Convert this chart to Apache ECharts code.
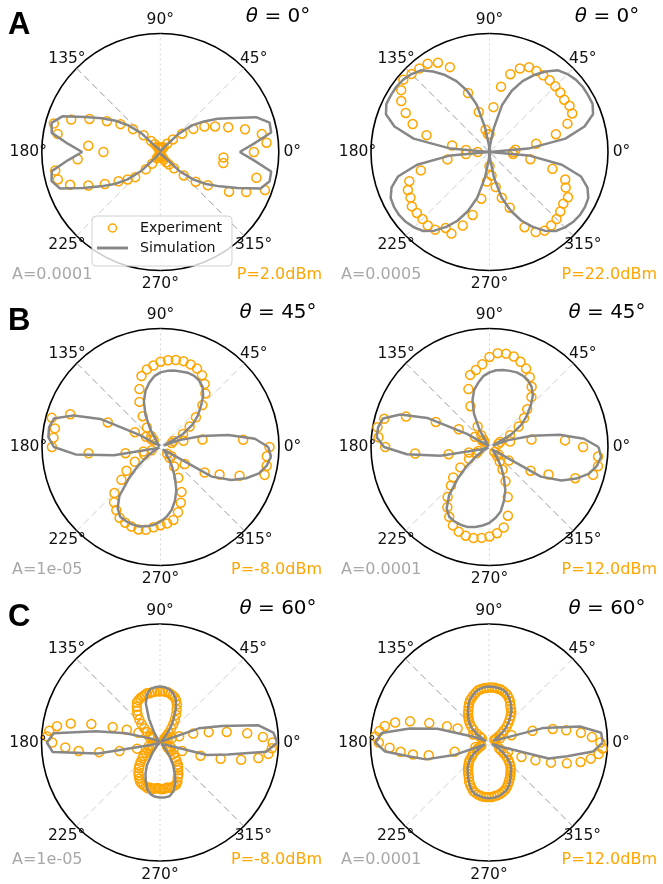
<!DOCTYPE html>
<html>
<head>
<meta charset="utf-8">
<script src="https://cdn.jsdelivr.net/npm/echarts@6/dist/echarts.min.js"></script>
<style>
html,body{margin:0;padding:0;background:#fff;}
#chart{width:663px;height:884px;}
</style>
</head>
<body>
<div id="chart"></div>
<script>
// ---------- tick labels / texts ----------
const tickAngles = [0, 45, 90, 135, 180, 225, 270, 315];
const tickLabels = ['0°', '45°', '90°', '135°', '180°', '225°', '270°', '315°'];
const guideAngles = [135, 45, 90];
const panelLetters = ['A', 'B', 'C'];
const thetaValues = [0, 0, 45, 45, 60, 60];
const ampLabels = ['A=0.0001', 'A=0.0005', 'A=1e-05', 'A=0.0001', 'A=1e-05', 'A=0.0001'];
const powerLabels = ['P=2.0dBm', 'P=22.0dBm', 'P=-8.0dBm', 'P=12.0dBm', 'P=-8.0dBm', 'P=12.0dBm'];
const legendNames = ['Experiment', 'Simulation'];

// ---------- simulation curves (radius, angles 0..360 step 5) ----------
const simStep = 5;
const simA1 = [0.67,0.79,0.95,0.955,0.86,0.68,0.56,0.45,0.35,0.22,0.06,0.01,
  0,0,0,0,0,0,0,0,0,0,0,0,
  0,0.01,0.06,0.22,0.35,0.46,0.57,0.70,0.88,0.95,0.93,0.78,
  0.66,0.78,0.93,0.95,0.90,0.72,0.58,0.47,0.36,0.22,0.06,0.01,
  0,0,0,0,0,0,0,0,0,0,0,0,
  0,0.01,0.06,0.22,0.36,0.47,0.58,0.72,0.90,0.955,0.95,0.79,
  0.67];
const simA2 = [0,0.33,0.65,0.83,0.93,0.96,0.96,0.96,0.95,0.93,0.90,0.83,
  0.75,0.66,0.55,0.41,0.20,0.06,0,0.06,0.20,0.41,0.55,0.66,
  0.75,0.83,0.90,0.93,0.95,0.96,0.96,0.96,0.93,0.83,0.65,0.33,
  0,0.33,0.62,0.80,0.88,0.92,0.93,0.93,0.92,0.90,0.87,0.81,
  0.73,0.64,0.53,0.40,0.22,0.06,0,0.06,0.22,0.40,0.53,0.64,
  0.73,0.81,0.87,0.90,0.92,0.93,0.93,0.92,0.88,0.80,0.62,0.33,
  0];
const simB1 = [0.91,0.80,0.58,0.36,0.17,0.03,0.22,0.33,0.41,0.48,0.56,0.62,
  0.65,0.665,0.667,0.66,0.655,0.645,0.63,0.60,0.55,0.49,0.41,0.30,
  0.17,0.05,0.01,0,0.01,0.04,0.20,0.56,0.78,0.93,0.955,0.95,
  0.90,0.72,0.40,0.06,0.01,0.02,0.06,0.14,0.25,0.38,0.54,0.63,
  0.68,0.69,0.695,0.695,0.68,0.66,0.63,0.59,0.54,0.47,0.39,0.29,
  0.20,0.13,0.07,0.03,0.01,0.06,0.50,0.66,0.77,0.86,0.91,0.935,
  0.91];
const simB2 = [0.92,0.80,0.60,0.37,0.17,0.03,0.21,0.33,0.41,0.49,0.57,0.62,
  0.65,0.665,0.67,0.665,0.66,0.65,0.63,0.60,0.55,0.50,0.42,0.31,
  0.17,0.05,0.01,0,0.01,0.04,0.22,0.58,0.80,0.93,0.955,0.955,
  0.89,0.70,0.42,0.08,0.01,0.02,0.06,0.14,0.25,0.38,0.53,0.63,
  0.68,0.695,0.70,0.70,0.685,0.665,0.64,0.60,0.55,0.47,0.39,0.29,
  0.20,0.12,0.07,0.03,0.01,0.06,0.50,0.67,0.78,0.87,0.92,0.945,
  0.92];
const simC1 = [0.99,0.96,0.84,0.54,0.35,0.05,0.01,0,0.01,0.03,0.08,0.16,
  0.23,0.32,0.39,0.43,0.455,0.468,0.472,0.468,0.46,0.42,0.35,0.22,
  0.10,0.03,0.01,0,0.01,0.02,0.04,0.07,0.12,0.30,0.55,0.90,
  0.955,0.91,0.53,0.08,0.02,0.01,0,0.01,0.02,0.03,0.06,0.12,
  0.22,0.29,0.35,0.41,0.445,0.46,0.465,0.465,0.46,0.43,0.375,0.30,
  0.22,0.14,0.07,0.02,0,0.01,0.02,0.03,0.06,0.41,0.58,0.90,
  0.99];
const simC2 = [0.96,0.95,0.78,0.47,0.04,0.04,0.07,0.12,0.18,0.23,0.28,0.33,
  0.37,0.41,0.44,0.46,0.467,0.47,0.472,0.468,0.46,0.44,0.415,0.39,
  0.35,0.31,0.27,0.235,0.19,0.13,0.06,0.03,0.15,0.45,0.68,0.91,
  0.958,0.88,0.68,0.55,0.30,0.04,0.08,0.15,0.20,0.24,0.28,0.31,
  0.35,0.39,0.43,0.45,0.46,0.468,0.47,0.467,0.46,0.445,0.43,0.40,
  0.36,0.32,0.29,0.255,0.20,0.14,0.07,0.03,0.10,0.52,0.67,0.88,
  0.96];

// ---------- experiment points (radius; A,B: step 5 deg, C: step 3 deg) ----------
const expSteps = [5, 5, 5, 5, 3, 3];
const expA1 = [0.79,0.90,0.87,0.74,0.61,0.51,0.43,0.34,0.24,0.15,0.09,0.05,
  0.03,0.02,0.04,0.02,0.03,0.02,0.03,0.02,0.04,0.02,0.03,0.04,
  0.05,0.08,0.12,0.20,0.30,0.41,0.52,0.66,0.80,0.93,0.88,0.61,
  0.48,0.70,0.90,0.895,0.81,0.67,0.54,0.43,0.36,0.30,0.19,0.12,
  0.06,0.04,0.03,0.02,0.03,0.02,0.03,0.02,0.03,0.04,0.05,0.07,
  0.10,0.13,0.18,0.28,0.39,0.49,0.67,0.80,0.94,0.84,0.54,0.535];
const expA2 = [0.20,0.22,0.40,0.58,0.70,0.77,0.78,0.77,0.78,0.785,0.79,0.79,
  0.79,0.79,0.75,0.68,0.56,0.38,0.15,0.15,0.19,0.35,0.53,0.79,
  0.87,0.91,0.92,0.93,0.95,0.91,0.86,0.78,0.69,0.55,0.32,0.20,
  0.10,0.20,0.36,0.60,0.72,0.76,0.77,0.80,0.80,0.80,0.81,0.80,
  0.74,0.76,0.66,0.55,0.40,0.25,0.12,0.20,0.30,0.40,0.50,0.70,
  0.78,0.81,0.81,0.80,0.78,0.76,0.765,0.71,0.68,0.55,0.35,0.20];
const expB1 = [0.92,0.70,0.36,0.20,0.10,0.12,0.22,0.30,0.39,0.50,0.59,0.65,
  0.70,0.73,0.742,0.75,0.745,0.735,0.72,0.69,0.665,0.62,0.52,0.42,
  0.30,0.20,0.12,0.08,0.10,0.15,0.25,0.49,0.81,0.95,0.905,0.906,
  0.916,0.61,0.30,0.15,0.08,0.15,0.25,0.35,0.43,0.55,0.61,0.65,
  0.69,0.705,0.715,0.72,0.71,0.68,0.66,0.647,0.625,0.57,0.50,0.42,
  0.30,0.20,0.12,0.08,0.12,0.25,0.43,0.55,0.71,0.91,0.91,0.90];
const expB2 = [0.79,0.64,0.36,0.18,0.08,0.10,0.20,0.30,0.38,0.45,0.55,0.62,
  0.68,0.73,0.765,0.79,0.80,0.795,0.76,0.70,0.66,0.63,0.52,0.38,
  0.20,0.12,0.08,0.06,0.08,0.15,0.30,0.50,0.75,0.92,0.96,0.94,
  0.88,0.63,0.35,0.18,0.10,0.12,0.20,0.30,0.40,0.46,0.55,0.62,
  0.68,0.73,0.76,0.775,0.78,0.77,0.755,0.73,0.69,0.60,0.45,0.32,
  0.22,0.15,0.10,0.06,0.10,0.20,0.40,0.55,0.77,0.905,0.93,0.92];
const expC1 = [0.95,0.87,0.74,0.57,0.42,0.29,0.17,0.11,0.07,0.05,
  0.04,0.04,0.04,0.05,0.06,0.08,0.11,0.15,0.19,0.23,
  0.27,0.31,0.35,0.38,0.40,0.41,0.42,0.43,0.43,0.435,
  0.43,0.435,0.43,0.43,0.425,0.43,0.42,0.415,0.41,0.40,
  0.39,0.36,0.33,0.30,0.26,0.22,0.18,0.14,0.10,0.08,
  0.07,0.10,0.20,0.30,0.42,0.60,0.77,0.88,0.94,0.955,
  0.91,0.80,0.69,0.52,0.35,0.20,0.10,0.07,0.07,0.08,
  0.10,0.12,0.15,0.18,0.20,0.23,0.26,0.28,0.31,0.33,
  0.35,0.37,0.38,0.385,0.39,0.40,0.39,0.395,0.39,0.385,
  0.39,0.395,0.39,0.385,0.39,0.39,0.385,0.38,0.36,0.33,
  0.31,0.28,0.26,0.24,0.21,0.18,0.15,0.12,0.10,0.08,
  0.07,0.07,0.10,0.20,0.36,0.53,0.70,0.84,0.92,0.945];
const expC2 = [0.94,0.87,0.78,0.66,0.55,0.38,0.20,0.10,0.06,0.05,
  0.07,0.10,0.13,0.16,0.20,0.23,0.26,0.29,0.32,0.34,
  0.36,0.39,0.41,0.43,0.44,0.45,0.46,0.46,0.465,0.465,
  0.465,0.46,0.46,0.455,0.45,0.435,0.42,0.405,0.39,0.37,
  0.345,0.32,0.30,0.275,0.255,0.23,0.20,0.17,0.13,0.09,
  0.07,0.15,0.29,0.38,0.53,0.69,0.81,0.89,0.93,0.96,
  0.93,0.84,0.75,0.65,0.52,0.30,0.12,0.07,0.08,0.10,
  0.12,0.15,0.17,0.19,0.22,0.24,0.26,0.28,0.30,0.32,
  0.34,0.37,0.39,0.41,0.43,0.44,0.45,0.455,0.46,0.46,
  0.46,0.46,0.455,0.45,0.445,0.435,0.425,0.41,0.39,0.37,
  0.35,0.33,0.31,0.29,0.27,0.245,0.22,0.19,0.15,0.12,
  0.10,0.18,0.30,0.42,0.55,0.68,0.79,0.87,0.93,0.96];

const simSets = [simA1, simA2, simB1, simB2, simC1, simC2];
const expSets = [expA1, expA2, expB1, expB2, expC1, expC2];

// ---------- layout (positions & styles) ----------
const R = 118.5;
const centers = [[160.3,152],[489.5,152],[160.5,447],[489.5,447],[160,742.5],[489,742.5]];
const labelRadius = 1.114;
const letterPos = [[8,25],[8,321],[8,617.5]];
const titlePos = [[278,16.5],[607,16.5],[278,312.5],[607,312.5],[278,609],[607,609]];
const ampPos = [[12,275],[341,275],[12,569.5],[341,569.5],[12,860],[341,860]];
const powerPos = [[322,275],[657,275],[322,569.5],[657,569.5],[322,860],[657,860]];
const guideStyles = [
  {color:'#9a9a9a', width:1, type:[7,4]},
  {color:'#cccccc', width:1, type:[7,4]},
  {color:'#d6d6d6', width:1, type:[2,3]}
];
const ORANGE = '#FFA500';
const FONT = 'DejaVu Sans';

const polar = [], angleAxis = [], radiusAxis = [], series = [];
for (let p = 0; p < 6; p++) {
  polar.push({center: centers[p], radius: R});
  angleAxis.push({
    polarIndex: p, type: 'value', min: 0, max: 360, interval: 45,
    startAngle: 0, clockwise: false,
    axisLine: {show: true, lineStyle: {color: '#000', width: 1.6}},
    axisTick: {show: false}, axisLabel: {show: false}, splitLine: {show: false}
  });
  radiusAxis.push({
    polarIndex: p, type: 'value', min: 0, max: 1,
    axisLine: {show: false}, axisTick: {show: false}, axisLabel: {show: false}, splitLine: {show: false}
  });
  guideAngles.forEach((a, k) => {
    series.push({
      type: 'line', coordinateSystem: 'polar', polarIndex: p, silent: true,
      symbol: 'none', clip: false, z: 1,
      data: [[1, a], [1, a + 180]],
      lineStyle: guideStyles[k]
    });
  });
  const step = expSteps[p];
  series.push({
    type: 'scatter', name: legendNames[0], coordinateSystem: 'polar', polarIndex: p,
    symbol: 'circle', symbolSize: 9, clip: false, z: 2,
    itemStyle: {color: 'rgba(0,0,0,0)', borderColor: ORANGE, borderWidth: 1.5, opacity: 1},
    data: expSets[p].map((r, i) => [r, i * step])
  });
  series.push({
    type: 'line', name: legendNames[1], coordinateSystem: 'polar', polarIndex: p,
    symbol: 'none', showSymbol: false, clip: false, z: 3,
    lineStyle: {color: '#878787', width: 2.5},
    data: simSets[p].map((r, i) => [r, i * simStep])
  });
  series.push({
    type: 'scatter', coordinateSystem: 'polar', polarIndex: p, silent: true,
    symbolSize: 1, clip: false, z: 4,
    itemStyle: {color: 'rgba(0,0,0,0)', opacity: 1},
    data: tickAngles.map(a => [labelRadius, a]),
    label: {
      show: true, position: 'inside', opacity: 1,
      formatter: (d) => tickLabels[d.dataIndex],
      fontFamily: FONT, fontSize: 15.5, color: '#111',
      textBorderWidth: 0
    }
  });
}

function txt(x, y, text, opts) {
  return {
    type: 'text', x: x, y: y, silent: true, z: 10,
    style: Object.assign({
      text: text, fontFamily: FONT, fontSize: 16, fill: '#000',
      align: 'left', textAlign: 'left', verticalAlign: 'middle', textVerticalAlign: 'middle'
    }, opts || {})
  };
}
const graphic = [];
panelLetters.forEach((l, i) => graphic.push(txt(letterPos[i][0], letterPos[i][1], l,
  {fontFamily: 'Liberation Sans', fontWeight: 'bold', fontSize: 31})));
thetaValues.forEach((v, i) => graphic.push(txt(titlePos[i][0], titlePos[i][1], '{i|θ} = ' + v + '°',
  {fontSize: 20, align: 'center', textAlign: 'center',
   rich: {i: {fontStyle: 'italic', fontSize: 20, fontFamily: FONT, fill: '#000'}}})));
ampLabels.forEach((t, i) => graphic.push(txt(ampPos[i][0], ampPos[i][1], t, {fill: '#a8a8a8'})));
powerLabels.forEach((t, i) => graphic.push(txt(powerPos[i][0], powerPos[i][1], t,
  {fill: ORANGE, align: 'right', textAlign: 'right'})));

const chart = echarts.init(document.getElementById('chart'), null, {renderer: 'canvas'});
chart.setOption({
  animation: false,
  backgroundColor: '#fff',
  polar: polar, angleAxis: angleAxis, radiusAxis: radiusAxis,
  legend: {
    left: 92, top: 216, orient: 'vertical', selectedMode: false,
    itemWidth: 31, itemHeight: 8, itemGap: 6,
    padding: [5, 10, 11, 5],
    backgroundColor: 'rgba(255,255,255,0.8)', borderColor: '#d0d0d0', borderWidth: 1, borderRadius: 4,
    textStyle: {fontFamily: FONT, fontSize: 14.2, color: '#111', padding: [0, 0, 0, 7]},
    data: [
      {name: legendNames[0], icon: 'circle', itemStyle: {color: 'rgba(0,0,0,0)', borderColor: ORANGE, borderWidth: 1.5, opacity: 1}},
      {name: legendNames[1], icon: 'path://M0,0H32V3H0Z', itemStyle: {color: '#878787', borderWidth: 0}}
    ]
  },
  graphic: graphic,
  series: series
});
</script>
</body>
</html>
